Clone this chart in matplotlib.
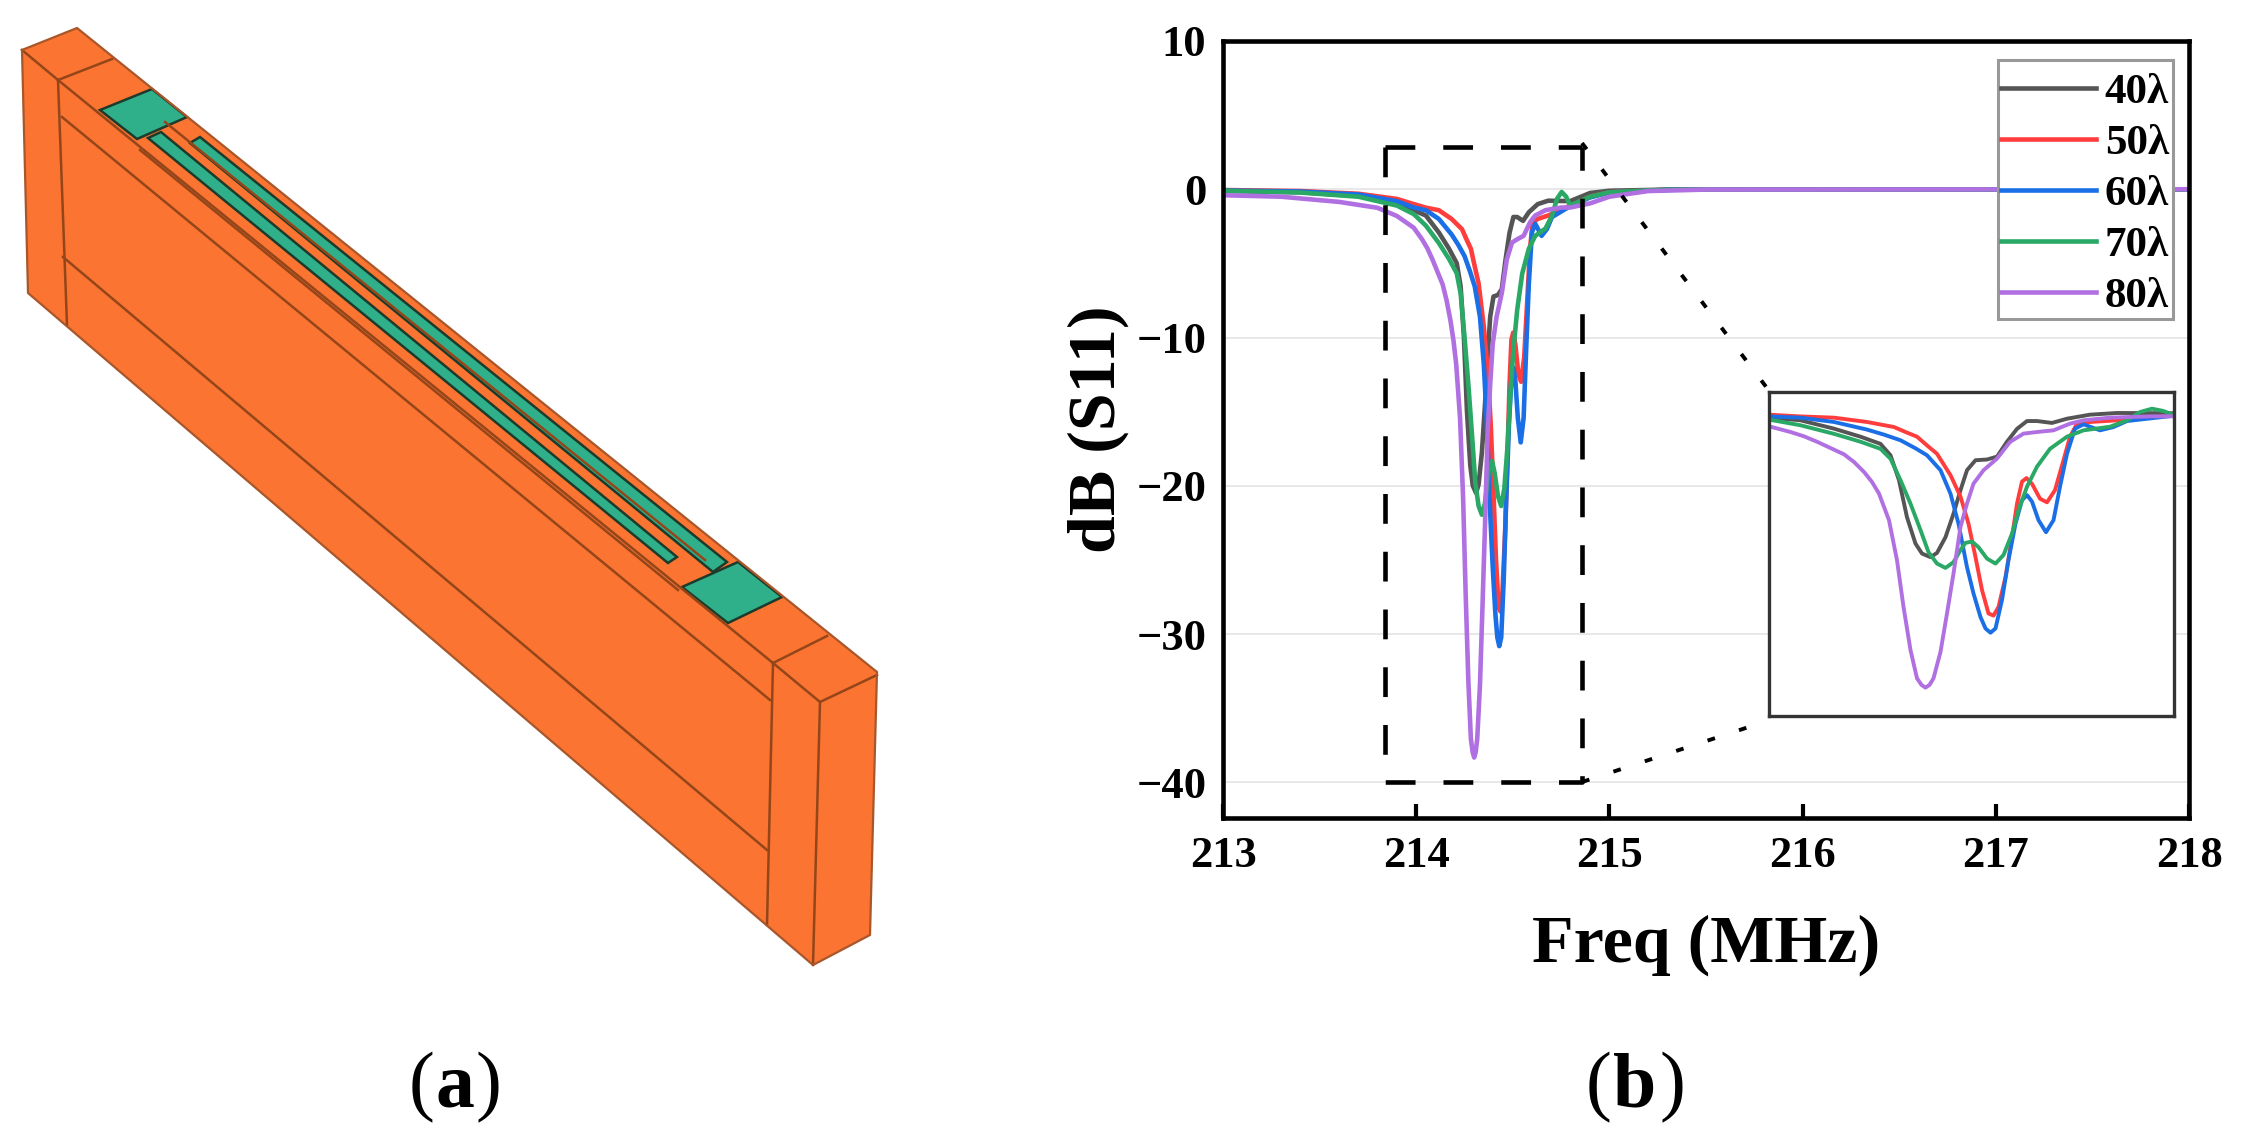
import matplotlib
matplotlib.use("Agg")
import matplotlib.pyplot as plt
from matplotlib.patches import Polygon, Rectangle

# =========================
# S11 curves
# =========================
freq_40 = [213.0, 213.4, 213.7, 213.9, 213.987, 214.05, 214.117, 214.17, 214.21, 214.23, 214.247, 214.263, 214.28,
           214.293, 214.31, 214.323, 214.34, 214.356, 214.37, 214.383, 214.4, 214.423, 214.443, 214.463, 214.483,
           214.503, 214.523, 214.553, 214.583, 214.629, 214.683, 214.797, 214.9, 215.0, 215.3, 218.0]
db_40 = [-0.1, -0.2, -0.45, -0.95, -1.41, -1.77, -2.91, -4.01, -4.99, -6.55, -9.96, -15.03, -18.63,
         -19.99, -20.48, -19.9, -17.75, -14.54, -11.32, -8.59, -7.23, -7.13, -6.74, -4.7, -2.94,
         -1.87, -1.87, -2.13, -1.55, -1.0, -0.77, -0.8, -0.25, -0.1, -0.02, 0.0]

freq_50 = [213.0, 213.4, 213.7, 213.9, 213.987, 214.05, 214.117, 214.183, 214.237, 214.26, 214.283, 214.303, 214.323,
           214.35, 214.37, 214.386, 214.4, 214.413, 214.426, 214.436, 214.446, 214.46, 214.473, 214.483, 214.493,
           214.502, 214.513, 214.529, 214.543, 214.559, 214.576, 214.589, 214.603, 214.629, 214.683, 214.797, 214.9,
           215.0, 215.3, 218.0]
db_50 = [-0.05, -0.12, -0.3, -0.65, -1.0, -1.24, -1.41, -2.0, -2.69, -3.37, -4.01, -5.2, -6.35,
         -9.28, -12.2, -15.9, -20.48, -24.97, -28.18, -28.47, -27.3, -23.2, -17.75, -13.17, -10.15,
         -9.67, -10.45, -12.49, -12.98, -11.32, -7.23, -4.01, -2.23, -2.0, -1.77, -1.1, -0.5,
         -0.2, -0.03, 0.0]

freq_60 = [213.0, 213.4, 213.7, 213.9, 213.987, 214.05, 214.117, 214.183, 214.217, 214.25, 214.28, 214.303, 214.33,
           214.35, 214.366, 214.383, 214.396, 214.41, 214.42, 214.43, 214.44, 214.453, 214.466, 214.48, 214.493,
           214.503, 214.513, 214.526, 214.541, 214.556, 214.569, 214.583, 214.599, 214.616, 214.649, 214.676, 214.703,
           214.797, 214.9, 215.0, 215.3, 218.0]
db_60 = [-0.08, -0.15, -0.35, -0.8, -1.23, -1.41, -2.0, -3.04, -3.73, -4.5, -5.6, -6.55, -8.59,
         -11.81, -15.9, -21.85, -25.45, -28.67, -30.23, -30.81, -30.23, -26.33, -20.87, -15.9, -12.69,
         -12.0, -12.88, -15.42, -17.07, -15.42, -10.84, -6.35, -2.91, -2.32, -3.14, -2.69, -1.87,
         -1.14, -0.55, -0.22, -0.03, 0.0]

freq_70 = [213.0, 213.4, 213.7, 213.9, 213.987, 214.05, 214.117, 214.17, 214.21, 214.23, 214.25, 214.27, 214.29,
           214.306, 214.323, 214.34, 214.356, 214.37, 214.38, 214.393, 214.406, 214.423, 214.44, 214.456, 214.473,
           214.486, 214.503, 214.523, 214.549, 214.583, 214.616, 214.669, 214.703, 214.729, 214.753, 214.776, 214.797,
           214.9, 215.0, 215.3, 218.0]
db_70 = [-0.1, -0.22, -0.5, -1.1, -1.67, -2.45, -3.62, -4.7, -5.67, -7.03, -9.96, -13.17, -16.78,
         -19.8, -21.36, -21.95, -21.17, -19.51, -18.53, -18.34, -19.12, -20.68, -21.36, -20.19, -17.27,
         -14.05, -10.84, -8.11, -5.67, -4.01, -3.14, -2.65, -1.78, -0.64, -0.18, -0.5, -1.09,
         -0.5, -0.2, -0.03, 0.0]

freq_80 = [213.0, 213.3, 213.6, 213.8, 213.9, 213.987, 214.03, 214.057, 214.084, 214.11, 214.137, 214.157, 214.177,
           214.193, 214.207, 214.227, 214.243, 214.256, 214.27, 214.283, 214.292, 214.3, 214.308, 214.316, 214.33,
           214.343, 214.356, 214.37, 214.383, 214.396, 214.416, 214.443, 214.469, 214.496, 214.523, 214.556, 214.589,
           214.616, 214.669, 214.75, 214.797, 214.9, 215.0, 215.2, 215.5, 218.0]
db_80 = [-0.4, -0.5, -0.85, -1.25, -1.8, -2.59, -3.37, -3.96, -4.73, -5.56, -6.42, -7.47, -8.83,
         -10.2, -11.79, -15.43, -20.9, -27.27, -33.19, -37.05, -37.95, -38.32, -37.95, -37.05, -33.44,
         -28.18, -22.72, -16.34, -13.15, -10.43, -8.6, -7.0, -4.73, -3.59, -3.37, -3.14, -2.23,
         -1.77, -1.41, -1.23, -1.23, -0.95, -0.5, -0.12, -0.02, 0.0]

labels = ["40λ", "50λ", "60λ", "70λ", "80λ"]
colors = ["#555555", "#ff3d3d", "#1a6fe6", "#2aa866", "#b070e2"]
all_freq = [freq_40, freq_50, freq_60, freq_70, freq_80]
all_db = [db_40, db_50, db_60, db_70, db_80]

xticks = [213, 214, 215, 216, 217, 218]
yticks = [-40, -30, -20, -10, 0, 10]
ytick_labels = ["\u221240", "\u221230", "\u221220", "\u221210", "0", "10"]

# =========================
# Panel (a) model outline, in image pixels
# =========================
body = [(22, 50), (77, 28), (877, 672), (870, 935), (813, 965), (28, 293)]
pads = [[(100, 110), (152, 89), (187, 117), (137, 139)],
        [(682, 587), (738, 562), (782, 597), (728, 623)]]
strips = [[(148, 138), (161, 132), (677, 557), (668, 563)],
          [(190, 143), (200, 137), (727, 562), (713, 572)]]
edges = [[(22, 50), (58, 80), (112, 59)], [(58, 80), (67, 325)], [(58, 80), (773, 663)],
         [(62, 117), (770, 700)], [(63, 257), (767, 850)], [(773, 663), (767, 925)],
         [(773, 663), (820, 702), (877, 675)], [(773, 663), (827, 636)], [(820, 702), (813, 965)],
         [(140, 150), (678, 590)], [(165, 122), (705, 560)]]
outline = body + [body[0]]

W, H = 2242, 1141
plt.rcParams["font.family"] = ["Liberation Serif", "DejaVu Serif"]
fig = plt.figure(figsize=(W / 100, H / 100), dpi=100)

# overlay in image pixels for the model, the zoom lines and the captions
over = fig.add_axes([0, 0, 1, 1], zorder=5)
over.set_xlim(0, W)
over.set_ylim(H, 0)
over.axis("off")

over.add_patch(Polygon(body, closed=True, facecolor="#fb7431", edgecolor="none"))
for line in edges:
    over.plot([p[0] for p in line], [p[1] for p in line], color="#94461a", lw=1.8)
over.plot([p[0] for p in outline], [p[1] for p in outline], color="#a8562a", lw=1.6)
for strip in strips:
    over.add_patch(Polygon(strip, closed=True, facecolor="#2fb08a", edgecolor="#1d3b2b", lw=1.8))
for pad in pads:
    over.add_patch(Polygon(pad, closed=True, facecolor="#2fb08a", edgecolor="#1d3b2b", lw=1.8))

# =========================
# Panel (b) main axes
# =========================
ax = fig.add_axes([1223 / W, 1 - 818 / H, (2189 - 1223) / W, (818 - 41) / H])
for f, d, c, lab in zip(all_freq, all_db, colors, labels):
    ax.plot(f, d, color=c, lw=3.3, label=lab, solid_joinstyle="round")
ax.set_xlim(213, 218)
ax.set_ylim(-42.4, 10)
ax.set_xticks(xticks)
ax.set_yticks(yticks)
ax.set_yticklabels(ytick_labels)
ax.grid(axis="y", color="#e4e4e4", lw=1.2)
ax.set_axisbelow(True)
ax.tick_params(axis="x", direction="in", length=10, width=3, labelsize=32, pad=13)
ax.tick_params(axis="y", length=0, labelsize=32, pad=12)
for lab in ax.get_xticklabels() + ax.get_yticklabels():
    lab.set_fontweight("bold")
for s in ax.spines.values():
    s.set_linewidth(3.3)
ax.set_xlabel("Freq (MHz)", fontsize=49, fontweight="bold", va="center")
ax.set_ylabel("dB (S11)", fontsize=49, fontweight="bold", va="center")
ax.xaxis.set_label_coords(0.5, -0.164)
ax.yaxis.set_label_coords(-0.129, 0.5)

# legend frame is drawn on its own so its size can follow the picture
ax.add_patch(Rectangle((1998, 60), 175, 259, transform=over.transData, facecolor="white",
                       edgecolor="#999999", lw=2.2, zorder=4))
leg = ax.legend(loc="upper right", bbox_to_anchor=(0.988, 0.9705), frameon=False,
                prop={"size": 31, "weight": "bold"}, handlelength=2.2,
                handletextpad=0.2, labelspacing=0.28, borderpad=0.2, borderaxespad=0)
leg.set_zorder(5)
for h in leg.get_lines():
    h.set_linewidth(3.3)

# dashed zoom window
ax.plot([213.84, 213.84, 214.86, 214.86], [2.87, -40, -40, 2.87], color="black", lw=3.3,
        linestyle=(0, (6.5, 6.1)), zorder=6)
ax.plot([213.84, 214.86], [2.87, 2.87], color="black", lw=3.3, linestyle=(0, (6.5, 6.1)), zorder=6)

# =========================
# Inset
# =========================
inset = fig.add_axes([1769 / W, 1 - 716 / H, (2174 - 1769) / W, (716 - 392) / H], zorder=4)
for f, d, c in zip(all_freq, all_db, colors):
    inset.plot(f, d, color=c, lw=2.8, solid_joinstyle="round")
inset.set_xlim(213.987, 214.797)
inset.set_ylim(-42.2, 2.1)
inset.set_xticks([])
inset.set_yticks([])
for s in inset.spines.values():
    s.set_linewidth(2.4)
    s.set_edgecolor("#333333")

# dotted lines from window to inset
over.plot([1582, 1770], [143, 392], color="black", lw=2.8, linestyle=(0, (2, 6.5)))
over.plot([1582, 1770], [782, 720], color="black", lw=2.8, linestyle=(0, (2, 6.5)))

# captions: upright brackets with a bold letter
for letter, x_left, x_right in [("a", 409, 475), ("b", 1586, 1659)]:
    over.text(x_left, 1088, "(", fontsize=56, ha="left", va="center")
    over.text(x_left + 27, 1088, letter, fontsize=56, fontweight="bold", ha="left", va="center")
    over.text(x_right, 1088, ")", fontsize=56, ha="left", va="center")

fig.savefig("out.png", dpi=100)
